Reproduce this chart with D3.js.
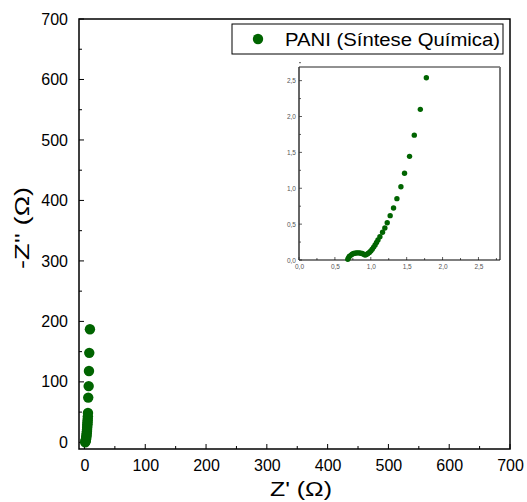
<!DOCTYPE html>
<html lang="pt">
<head>
  <meta charset="utf-8">
  <title>PANI Nyquist</title>
  <script src="https://d3js.org/d3.v7.min.js"></script>
  <style>
    body { margin: 0; background: #fff; }
    text { font-family: "Liberation Sans", Arial, sans-serif; }
  </style>
</head>
<body>
  <div id="stage"></div>
  <script>
    // main plot data, Z' and -Z'' in ohm
    var mainZre = [1.2, 1.6, 2.0, 2.4, 2.8, 3.1, 3.4, 3.7, 4.0, 4.2, 4.4, 4.6, 4.8, 5.0, 5.2, 5.4, 5.6, 5.75, 6.2, 6.9, 7.4, 7.9, 9.0];
    var mainZim = [0, 1.5, 3, 5, 7, 9.5, 12, 15, 18, 21, 24, 27, 30, 33, 36, 39, 43, 48.5, 74, 93, 118, 148, 187];

    // inset data (zoom near origin)
    var insetZre = [0.68, 0.69, 0.70, 0.72, 0.74, 0.76, 0.78, 0.80, 0.82, 0.84, 0.86, 0.88, 0.90, 0.92, 0.94, 0.96, 0.98, 1.00, 1.02, 1.04, 1.06, 1.08, 1.10, 1.127, 1.164, 1.196, 1.229, 1.27, 1.317, 1.364, 1.42, 1.47, 1.54, 1.606, 1.69, 1.774];
    var insetZim = [0.01, 0.03, 0.05, 0.065, 0.08, 0.09, 0.095, 0.10, 0.10, 0.10, 0.095, 0.09, 0.08, 0.07, 0.075, 0.09, 0.105, 0.125, 0.15, 0.18, 0.21, 0.245, 0.28, 0.325, 0.386, 0.446, 0.52, 0.618, 0.725, 0.855, 1.02, 1.21, 1.445, 1.74, 2.10, 2.54];

    var mainTicks = [0, 100, 200, 300, 400, 500, 600, 700];
    var insetTicks = [0, 0.5, 1.0, 1.5, 2.0, 2.5];
    var seriesName = "PANI (Síntese Química)";
    var green = "#006400";

    var W = 527, H = 502;
    var svg = d3.select("#stage").append("svg").attr("width", W).attr("height", H);

    // ---- main plot ----
    var m = { left: 79, right: 510, top: 19, bottom: 449 };
    var x = d3.scaleLinear().domain([-9, 700]).range([m.left, m.right]);
    var y = d3.scaleLinear().domain([-11, 700]).range([m.bottom, m.top]);

    var fmt = d3.format("d");
    var xAxis = d3.axisBottom(x).tickValues(mainTicks).tickSize(0).tickPadding(11).tickFormat(fmt);
    var yAxis = d3.axisLeft(y).tickValues(mainTicks).tickSize(0).tickPadding(11).tickFormat(fmt);

    var gx = svg.append("g").attr("transform", "translate(0," + m.bottom + ")").call(xAxis);
    var gy = svg.append("g").attr("transform", "translate(" + m.left + ",0)").call(yAxis);
    [gx, gy].forEach(function (g) {
      g.select(".domain").remove();
      g.selectAll("text").attr("font-size", 16).attr("fill", "#000")
        .attr("font-family", "Liberation Sans, Arial, sans-serif");
    });

    // inward ticks, major every 100, minor every 50
    var minor = d3.range(0, 701, 50);
    svg.append("g").selectAll("line").data(minor).join("line")
      .attr("x1", function (d) { return x(d); }).attr("x2", function (d) { return x(d); })
      .attr("y1", m.bottom).attr("y2", function (d) { return m.bottom - (d % 100 == 0 ? 5 : 3); })
      .attr("stroke", "#000").attr("stroke-width", 1);
    svg.append("g").selectAll("line").data(minor).join("line")
      .attr("y1", function (d) { return y(d); }).attr("y2", function (d) { return y(d); })
      .attr("x1", m.left).attr("x2", function (d) { return m.left + (d % 100 == 0 ? 5 : 3); })
      .attr("stroke", "#000").attr("stroke-width", 1);

    svg.append("rect").attr("x", m.left).attr("y", m.top)
      .attr("width", m.right - m.left).attr("height", m.bottom - m.top)
      .attr("fill", "none").attr("stroke", "#000").attr("stroke-width", 1.5);

    svg.append("g").selectAll("circle").data(mainZre).join("circle")
      .attr("cx", function (d) { return x(d); })
      .attr("cy", function (d, i) { return y(mainZim[i]); })
      .attr("r", 5.2).attr("fill", green);

    svg.append("text").attr("x", 270).attr("y", 496)
      .attr("font-size", 20).attr("textLength", 62).attr("lengthAdjust", "spacingAndGlyphs")
      .text("Z' (Ω)");
    svg.append("text").attr("transform", "translate(29,269) rotate(-90)")
      .attr("font-size", 20).attr("textLength", 82).attr("lengthAdjust", "spacingAndGlyphs")
      .text("-Z'' (Ω)");

    // ---- legend ----
    svg.append("rect").attr("x", 232).attr("y", 24).attr("width", 271).attr("height", 30)
      .attr("fill", "#fff").attr("stroke", "#000").attr("stroke-width", 1);
    svg.append("circle").attr("cx", 258).attr("cy", 39).attr("r", 5.2).attr("fill", green);
    svg.append("text").attr("x", 285).attr("y", 46).attr("font-size", 18)
      .attr("textLength", 215).attr("lengthAdjust", "spacingAndGlyphs").text(seriesName);

    // ---- inset ----
    var n = { left: 299, right: 500, top: 67, bottom: 260 };
    var ix = d3.scaleLinear().domain([0, 2.8]).range([n.left, n.right]);
    var iy = d3.scaleLinear().domain([0, 2.69]).range([n.bottom, n.top]);
    var comma = function (d) { return d3.format(".1f")(d).replace(".", ","); };

    svg.append("line").attr("x1", n.left).attr("x2", n.right).attr("y1", n.top).attr("y2", n.top)
      .attr("stroke", "#222").attr("stroke-width", 1);
    svg.append("line").attr("x1", n.right).attr("x2", n.right).attr("y1", n.top).attr("y2", n.bottom)
      .attr("stroke", "#777").attr("stroke-width", 2);

    var igx = svg.append("g").attr("transform", "translate(0," + n.bottom + ")")
      .call(d3.axisBottom(ix).tickValues(insetTicks).tickSize(0).tickPadding(4).tickFormat(comma));
    var igy = svg.append("g").attr("transform", "translate(" + n.left + ",0)")
      .call(d3.axisLeft(iy).tickValues(insetTicks).tickSize(0).tickPadding(3).tickFormat(comma));
    [igx, igy].forEach(function (g) {
      g.select(".domain").remove();
      g.selectAll("text").attr("font-size", 6.5).attr("fill", "#555");
    });
    var iminor = d3.range(0, 2.76, 0.25);
    svg.append("g").selectAll("line").data(iminor).join("line")
      .attr("x1", function (d) { return ix(d); }).attr("x2", function (d) { return ix(d); })
      .attr("y1", n.bottom).attr("y2", function (d, i) { return n.bottom - (i % 2 == 0 ? 3 : 2); })
      .attr("stroke", "#333").attr("stroke-width", 0.8);
    svg.append("g").selectAll("line").data(iminor).join("line")
      .attr("y1", function (d) { return iy(d); }).attr("y2", function (d) { return iy(d); })
      .attr("x1", n.left).attr("x2", function (d, i) { return n.left + (i % 2 == 0 ? 3 : 2); })
      .attr("stroke", "#333").attr("stroke-width", 0.8);
    svg.append("line").attr("x1", n.left).attr("x2", n.right).attr("y1", n.bottom).attr("y2", n.bottom)
      .attr("stroke", "#000").attr("stroke-width", 1.2);
    svg.append("line").attr("x1", n.left).attr("x2", n.left).attr("y1", n.top).attr("y2", n.bottom)
      .attr("stroke", "#333").attr("stroke-width", 1.5);

    svg.append("g").selectAll("circle").data(insetZre).join("circle")
      .attr("cx", function (d) { return ix(d); })
      .attr("cy", function (d, i) { return iy(insetZim[i]); })
      .attr("r", 2.7).attr("fill", green);
  </script>
</body>
</html>
